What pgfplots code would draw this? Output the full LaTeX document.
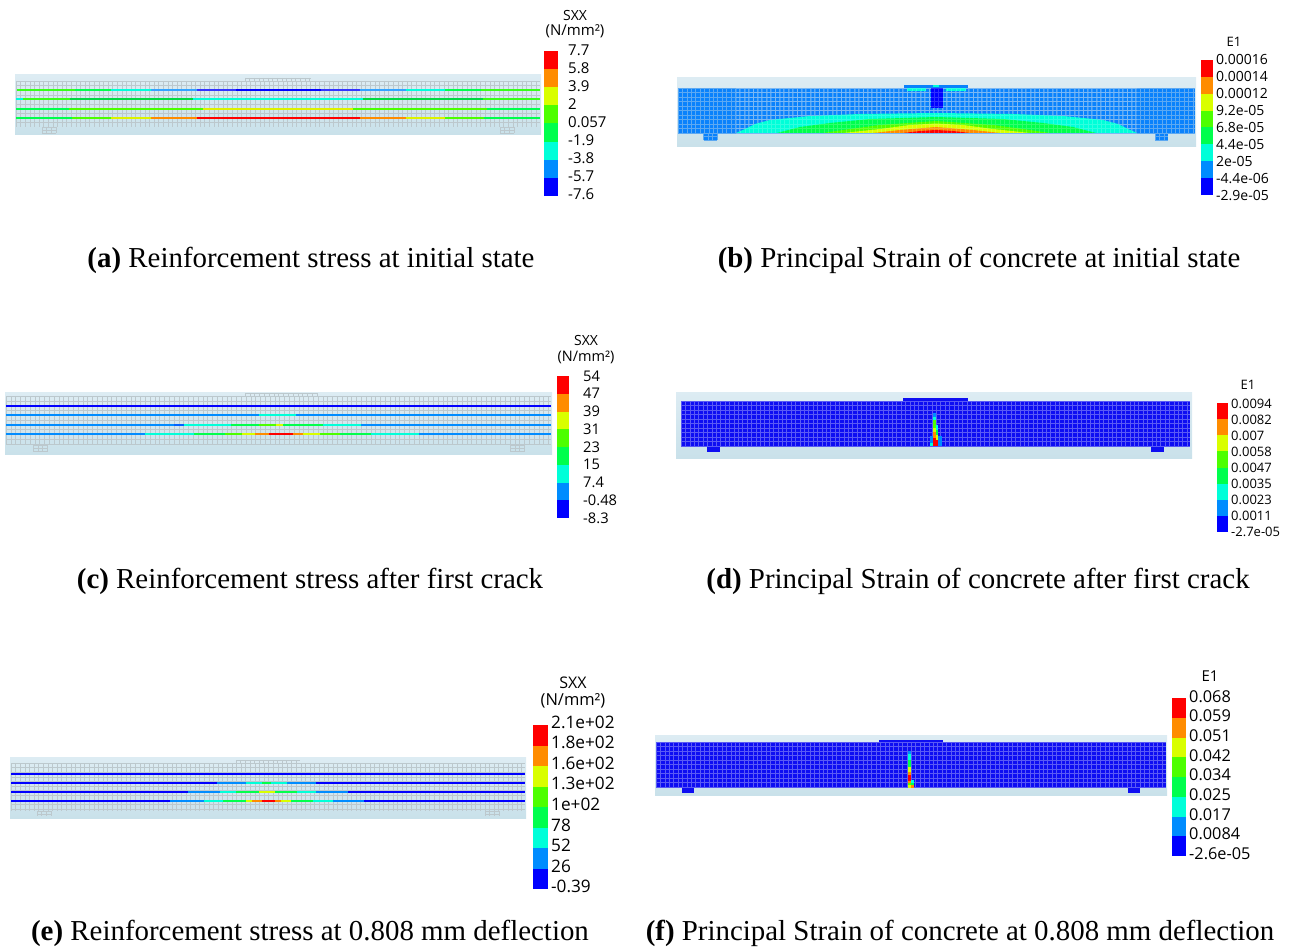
\documentclass[border=0pt]{standalone}
\usepackage{fontspec}
\setmainfont{Liberation Serif}
\newfontfamily\cbfont{Open Sans}
\usepackage{pgfplots}
\pgfplotsset{compat=1.18}
\definecolor{cr}{HTML}{FF0000}
\definecolor{co}{HTML}{FF8C00}
\definecolor{cy}{HTML}{D9FF00}
\definecolor{cl}{HTML}{4DFF00}
\definecolor{cg}{HTML}{00FF4D}
\definecolor{cc}{HTML}{00FFD9}
\definecolor{cb}{HTML}{008CFF}
\definecolor{cd}{HTML}{0000FF}
\definecolor{boxt}{HTML}{DDECF3}
\definecolor{boxb}{HTML}{C9E1EA}
\definecolor{meshg}{HTML}{BCC8CD}
\definecolor{meshb}{HTML}{5DA9F2}
\definecolor{meshd}{HTML}{5A5AF5}
\definecolor{bfill}{HTML}{0A82FC}
\definecolor{dfill}{HTML}{0E0EF2}
\newcommand{\rect}[5]{\addplot[fill=#1,draw=none,forget plot] coordinates {(#2,#3) (#4,#3) (#4,#5) (#2,#5)} -- cycle;}
\newcommand{\boxbg}[4]{\addplot[top color=boxt,bottom color=boxb,draw=none,forget plot] coordinates {(#1,#2) (#3,#2) (#3,#4) (#1,#4)} -- cycle;}
\newcommand{\seg}[4]{\addplot[color=#1,line width=1.9pt,line cap=butt,forget plot] coordinates {(#3,#2) (#4,#2)};}
% x1,x2,y1,y2,dx,dy,colour
\newcommand{\mesh}[7]{%
  \gdef\mlist{}%
  \pgfmathsetmacro\xnext{#1+#5}%
  \foreach \x in {#1,\xnext,...,#2}{\xdef\mlist{\mlist (\x,#3) (\x,#4) (\x,nan)}}%
  \pgfmathsetmacro\ynext{#3+#6}%
  \foreach \y in {#3,\ynext,...,#4}{\xdef\mlist{\mlist (#1,\y) (#2,\y) (#1,nan)}}%
  \edef\tmp{\noexpand\addplot[color=#7,line width=0.45pt,unbounded coords=jump,forget plot] coordinates {\mlist};}\tmp}
% colour bar: x1,x2,y1,y2 ; 8 equal cells
\newcommand{\cbar}[4]{%
  \pgfmathsetmacro\h{(#4-#3)/8}%
  \foreach \c [count=\i from 0] in {cr,co,cy,cl,cg,cc,cb,cd}{%
    \pgfmathsetmacro\ya{#3+\i*\h}\pgfmathsetmacro\yb{#3+(\i+1)*\h}%
    \edef\tmp{\noexpand\rect{\c}{#1}{\ya}{#2}{\yb}}\tmp}}
% labels: x, y0, dy, size, list
\newcommand{\cblabels}[5]{%
  \foreach \t [count=\i from 0] in {#5}{%
    \pgfmathsetmacro\yy{#2+\i*#3+2.5}%
    \edef\tmp{\noexpand\node[anchor=west,inner sep=0pt,text height=0.72em,text depth=0pt,font=\noexpand\cbfont\noexpand\fontsize{#4}{#4}\noexpand\selectfont] at (axis cs:#1,\yy) {\t};}\tmp}}
\newcommand{\ttl}[4]{\node[inner sep=0pt,font=\cbfont\fontsize{#3}{#3}\selectfont] at (axis cs:#1,#2) {#4};}
\newcommand{\cpt}[4]{\node[inner sep=0pt,font=\fontsize{28.9}{30}\selectfont] at (axis cs:#1,#2) {\textbf{(#3)} #4};}
\begin{document}
\begin{tikzpicture}
\path[use as bounding box] (0,0) rectangle (1298pt,949pt);
\begin{axis}[scale only axis,width=1298pt,height=949pt,xmin=0,xmax=1298,ymin=0,ymax=949,y dir=reverse,hide axis,clip=false]
%% ---------- (a)
\boxbg{15}{75}{541}{135}
\mesh{16}{540}{81}{127}{4.6}{4.6}{meshg}
\mesh{245}{311}{78}{81}{4.6}{3}{meshg}
\mesh{42}{56}{127}{133}{4.6}{3}{meshg}
\mesh{500}{514}{127}{133}{4.6}{3}{meshg}
\seg{cl!70!cg}{90}{17}{75}\seg{cg}{90}{75}{111}\seg{cc}{90}{111}{151}\seg{cb!80!white}{90}{151}{197}\seg{cd!80!white}{90}{197}{236}\seg{cd}{90}{236}{321}\seg{cd!80!white}{90}{321}{360}\seg{cb!80!white}{90}{360}{406}\seg{cc}{90}{406}{445}\seg{cg}{90}{445}{481}\seg{cl!70!cg}{90}{481}{540}
\seg{cc}{99.3}{16}{23}\seg{cl!70!cg}{99.3}{23}{70}\seg{cg!85!black}{99.3}{70}{193}\seg{cc}{99.3}{193}{363}\seg{cg!85!black}{99.3}{363}{483}\seg{cl!70!cg}{99.3}{483}{540}
\seg{cg}{108.7}{16}{69}\seg{cl}{108.7}{69}{203}\seg{cy!90!orange}{108.7}{203}{353}\seg{cl}{108.7}{353}{487}\seg{cg}{108.7}{487}{540}
\seg{cg}{118}{16}{72}\seg{cl}{118}{72}{111}\seg{cy!90!orange}{118}{111}{151}\seg{co}{118}{151}{197}\seg{cr}{118}{197}{360}\seg{co}{118}{360}{406}\seg{cy!90!orange}{118}{406}{445}\seg{cl}{118}{445}{484}\seg{cg}{118}{484}{540}
\cbar{544}{557.5}{51}{196}
\cblabels{568}{49}{18.1}{15}{7.7,5.8,3.9,2,0.057,-1.9,-3.8,-5.7,-7.6}
\ttl{575}{16}{14}{SXX}
\ttl{575}{31.5}{15}{(N/mm²)}
\cpt{311}{260.5}{a}{Reinforcement stress at initial state}
%% ---------- (b)
\boxbg{677}{77.5}{1196}{147}
\rect{bfill}{678}{88}{1195}{133}
\rect{bfill}{904}{85}{968}{88}
\rect{bfill}{703.7}{133}{717}{140}
\rect{bfill}{1155}{133}{1168}{140}
\mesh{678}{1195}{88}{133}{4.4}{4.5}{meshb}
\mesh{703.7}{717}{133}{140}{4.4}{3.5}{meshb}
\mesh{1155}{1168}{133}{140}{4.4}{3.5}{meshb}
\addplot[fill=cc,draw=none,forget plot] coordinates {(736,133) (745,129) (755,124) (770,120) (790,118) (810,116) (860,114) (936,113) (1013,114) (1063,116) (1083,118) (1103,120) (1118,124) (1128,129) (1137,133)} -- cycle;
\addplot[fill=cg,draw=none,forget plot] coordinates {(777,133) (800,127) (830,123) (870,119) (936,117) (1003,119) (1043,123) (1073,127) (1096,133)} -- cycle;
\addplot[fill=cl,draw=none,forget plot] coordinates {(823,133) (850,129) (880,125) (936,121) (993,125) (1023,129) (1050,133)} -- cycle;
\addplot[fill=cy,draw=none,forget plot] coordinates {(843,133) (880,129) (910,125) (936,123.5) (963,125) (993,129) (1030,133)} -- cycle;
\addplot[fill=co,draw=none,forget plot] coordinates {(873,133) (900,130) (936,127) (973,130) (1000,133)} -- cycle;
\addplot[fill=cr,draw=none,forget plot] coordinates {(903,133) (920,131) (936,130) (953,131) (970,133)} -- cycle;
\rect{cd}{931}{88}{943}{108}
\rect{cc}{906.7}{88}{926}{91.5}
\rect{cc}{946}{88}{966}{91.5}
\rect{cc}{933}{85}{939}{87}
\mesh{736}{1137}{88}{133}{4.4}{4.5}{white,opacity=0.18}
\cbar{1201}{1213}{60}{195}
\cblabels{1216}{58.5}{16.95}{14}{0.00016,0.00014,0.00012,9.2e-05,6.8e-05,4.4e-05,2e-05,-4.4e-06,-2.9e-05}
\ttl{1234}{42}{13}{E1}
\cpt{979}{260.5}{b}{Principal Strain of concrete at initial state}
%% ---------- (c)
\boxbg{5}{392}{552}{454}
\mesh{6}{551}{396}{445}{4.8}{4.8}{meshg}
\mesh{245}{318}{393}{396}{4.8}{3}{meshg}
\mesh{33}{48}{445}{451}{4.8}{3}{meshg}
\mesh{510}{525}{445}{451}{4.8}{3}{meshg}
\seg{cd}{405.7}{6}{551}
\seg{cb}{415}{6}{259}\seg{cc}{415}{259}{296}\seg{cb}{415}{296}{551}
\seg{cb}{424.7}{6}{174}\seg{cb!70!cd}{424.7}{174}{184}\seg{cc}{424.7}{184}{231}\seg{cg}{424.7}{231}{259}\seg{cl}{424.7}{259}{276}\seg{cy}{424.7}{276}{283}\seg{cg}{424.7}{283}{323}\seg{cc}{424.7}{323}{361}\seg{cb}{424.7}{361}{551}
\seg{cb}{434.3}{6}{145}\seg{cc}{434.3}{145}{194}\seg{cg}{434.3}{194}{225}\seg{cl}{434.3}{225}{242}\seg{cy}{434.3}{242}{255}\seg{co}{434.3}{255}{269}\seg{cr}{434.3}{269}{293}\seg{co}{434.3}{293}{303}\seg{cy}{434.3}{303}{320}\seg{cl}{434.3}{320}{340}\seg{cg}{434.3}{340}{371}\seg{cc}{434.3}{371}{419}\seg{cb}{434.3}{419}{551}
\cbar{556.5}{569}{376}{518}
\cblabels{583}{375}{17.75}{14.7}{54,47,39,31,23,15,7.4,-0.48,-8.3}
\ttl{586}{341}{14}{SXX}
\ttl{586}{357}{14.5}{(N/mm²)}
\cpt{310}{581.5}{c}{Reinforcement stress after first crack}
%% ---------- (d)
\boxbg{676}{392}{1192}{458}
\rect{dfill}{681}{401}{1190}{446}
\rect{dfill}{903}{398}{968}{401}
\rect{dfill}{707}{446}{720}{452}
\rect{dfill}{1151}{446}{1164}{452}
\mesh{681}{1190}{401}{446}{4.4}{4.5}{meshd}
\rect{cb}{933}{413}{935.5}{417}\rect{cc}{933}{417}{935.5}{420}\rect{cl}{933}{420}{935.5}{428}\rect{cy}{933}{428}{935.5}{432}\rect{co}{933}{432}{935.5}{438}\rect{cr}{933}{438}{935.5}{446}
\rect{cc}{935.5}{425}{938}{430}\rect{cg}{935.5}{430}{938}{435}\rect{cy}{935.5}{435}{938}{440}\rect{cr}{935.5}{440}{938}{446}
\rect{cb}{930}{436}{933}{443}\rect{cc}{930}{443}{933}{446}\rect{cb}{938}{436}{942}{446}
\cbar{1217}{1228}{403}{532}
\cblabels{1231}{402}{16.1}{13}{0.0094,0.0082,0.007,0.0058,0.0047,0.0035,0.0023,0.0011,-2.7e-05}
\ttl{1248}{385}{13}{E1}
\cpt{978}{581.5}{d}{Principal Strain of concrete after first crack}
%% ---------- (e)
\boxbg{10}{757}{526}{818}
\mesh{11}{525}{763}{811}{4.6}{4.6}{meshg}
\mesh{236}{300}{760}{763}{4.6}{3}{meshg}
\mesh{37}{52}{811}{816}{4.6}{3}{meshg}
\mesh{485}{500}{811}{816}{4.6}{3}{meshg}
\seg{cd}{774}{11}{525}
\seg{cd}{783}{11}{217}\seg{cb}{783}{217}{246}\seg{cc}{783}{246}{262}\seg{cg}{783}{262}{271}\seg{cc}{783}{271}{287}\seg{cb}{783}{287}{316}\seg{cd}{783}{316}{525}
\seg{cd}{792}{11}{188}\seg{cb}{792}{188}{220}\seg{cc}{792}{220}{236}\seg{cg}{792}{236}{259}\seg{cy}{792}{259}{275}\seg{cg}{792}{275}{297}\seg{cc}{792}{297}{316}\seg{cb}{792}{316}{348}\seg{cd}{792}{348}{525}
\seg{cd}{801}{11}{170}\seg{cb}{801}{170}{204}\seg{cc}{801}{204}{223}\seg{cg}{801}{223}{246}\seg{cy}{801}{246}{252}\seg{co}{801}{252}{262}\seg{cr}{801}{262}{275}\seg{co}{801}{275}{281}\seg{cy}{801}{281}{291}\seg{cg}{801}{291}{313}\seg{cc}{801}{313}{333}\seg{cb}{801}{333}{364}\seg{cd}{801}{364}{525}
\cbar{533}{547.5}{725}{889}
\cblabels{551}{722}{20.6}{17.2}{2.1e+02,1.8e+02,1.6e+02,1.3e+02,1e+02,78,52,26,-0.39}
\ttl{573}{683}{16}{SXX}
\ttl{573}{701}{16.5}{(N/mm²)}
\cpt{310}{933.5}{e}{Reinforcement stress at 0.808 mm deflection}
%% ---------- (f)
\boxbg{655}{735}{1167}{795}
\rect{dfill}{656}{742}{1166}{788}
\rect{dfill}{879}{740}{943}{742}
\rect{dfill}{682}{788}{694}{793}
\rect{dfill}{1128}{788}{1140}{793}
\mesh{656}{1166}{742}{788}{4.4}{4.5}{meshd}
\rect{cb}{908}{751}{911}{754}\rect{cc}{908}{754}{911}{760}\rect{cg}{908}{760}{911}{767}\rect{cy}{908}{767}{911}{772}\rect{co}{908}{772}{911}{775}\rect{cr}{908}{775}{911}{781}\rect{co}{908}{781}{911}{783}\rect{cl}{908}{783}{911}{785}\rect{cy}{908}{785}{911}{788}
\rect{cc}{911}{780}{914}{783}\rect{cg}{911}{783}{914}{785}\rect{co}{911}{785}{914}{788}
\cbar{1172}{1186}{698}{856}
\cblabels{1189}{696}{19.65}{16.3}{0.068,0.059,0.051,0.042,0.034,0.025,0.017,0.0084,-2.6e-05}
\ttl{1210}{676}{15}{E1}
\cpt{960}{933.5}{f}{Principal Strain of concrete at 0.808 mm deflection}
\end{axis}
\end{tikzpicture}
\end{document}
